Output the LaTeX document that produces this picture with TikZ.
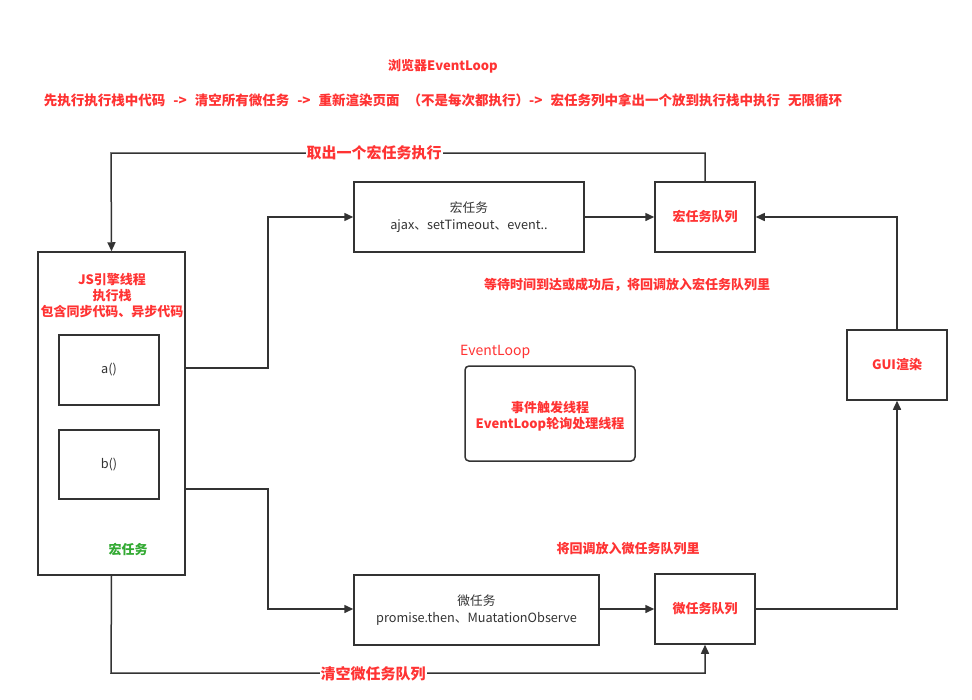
\documentclass[tikz,border=0pt]{standalone}
\usepackage{fontspec}
\setmainfont{Noto Sans CJK SC}
\usetikzlibrary{arrows.meta}
\definecolor{dark}{RGB}{51,51,51}
\definecolor{myred}{RGB}{255,51,51}
\definecolor{mygreen}{RGB}{51,170,51}
\tikzset{
  box/.style={draw=dark, line width=1.5pt, fill=white, inner sep=0pt, align=center, text=dark, font=\fontsize{12.7}{17}\selectfont},
  redtxt/.style={text=myred, font=\fontsize{13}{16}\selectfont\bfseries, align=center, inner sep=1pt},
  qbox/.style={box, minimum width=100pt, minimum height=70pt, text=myred, font=\fontsize{13}{16}\selectfont\bfseries},
  conn/.style={draw=dark, line width=1.5pt, -{Triangle[length=9pt,width=8pt]}},
  lbl/.style={fill=white, text=myred, font=\fontsize{15}{17}\selectfont\bfseries, inner sep=1pt}
}
\begin{document}
\begin{tikzpicture}[x=1pt,y=-1pt]
\useasboundingbox[fill=white] (0,0) rectangle (972,699);
% titles
\node[redtxt] (title) at (443,66) {浏览器EventLoop};
\node[redtxt, font=\fontsize{13.5}{16}\selectfont\bfseries] (sub) at (443,100) {先执行执行栈中代码\hspace{8pt}->\hspace{8pt}清空所有微任务\hspace{8pt}->\hspace{8pt}重新渲染页面\hspace{8pt}（不是每次都执行）->\hspace{8pt}宏任务列中拿出一个放到执行栈中执行\hspace{8pt}无限循环};
% left box
\node[box, minimum width=147pt, minimum height=323pt] (js) at (111.5,413.5) {};
\node[redtxt] (jst) at (112,296) {JS引擎线程\\执行栈\\包含同步代码、异步代码};
\node[box, minimum width=100pt, minimum height=70pt] (a) at (109,370) {a()};
\node[box, minimum width=100pt, minimum height=69pt] (b) at (109,464.5) {b()};
\node[text=mygreen, font=\fontsize{13}{15}\selectfont\bfseries] (mg) at (128,549) {宏任务};
% macro
\node[box, minimum width=230pt, minimum height=70pt] (mac) at (469,217) {宏任务\\ajax、setTimeout、event..};
\node[qbox] (mq) at (705,217) {宏任务队列};
% micro
\node[box, minimum width=245pt, minimum height=70pt] (mic) at (476.5,610) {微任务\\promise.then、MuatationObserve};
\node[qbox] (miq) at (705,609) {微任务队列};
% GUI
\node[qbox] (gui) at (897,365) {GUI渲染};
% event loop
\node[text=myred, font=\fontsize{14}{16}\selectfont, anchor=west, inner sep=0pt] (elt) at (460,352) {EventLoop};
\node[box, rounded corners=4pt, minimum width=170pt, minimum height=95pt] (el) at (550,413.5) {};
\node[redtxt] (elx) at (550,416) {事件触发线程\\EventLoop轮询处理线程};
% notes
\node[redtxt] (n1) at (627,285) {等待时间到达或成功后，将回调放入宏任务队列里};
\node[redtxt] (n2) at (628,549) {将回调放入微任务队列里};
% connectors
\coordinate (t1) at (705,153);
\coordinate (t2) at (111,153);
\draw[conn] (mq.north) -- (t1) -- (t2) -- (js.north);
\node[lbl] at (374,153) {取出一个宏任务执行};
\coordinate (r1) at (185,368);
\coordinate (r2) at (268,368);
\coordinate (r3) at (268,217);
\draw[conn] (r1) -- (r2) -- (r3) -- (mac.west);
\draw[conn] (mac.east) -- (mq.west);
\coordinate (g1) at (897,217);
\draw[conn] (gui.north) -- (g1) -- (mq.east);
\coordinate (s1) at (185,489);
\coordinate (s2) at (268,489);
\coordinate (s3) at (268,609);
\draw[conn] (s1) -- (s2) -- (s3) -- (mic.west |- s3);
\draw[conn] (mic.east |- miq.west) -- (miq.west);
\coordinate (u1) at (897,609);
\draw[conn] (miq.east) -- (u1) -- (gui.south);
\coordinate (v1) at (111,673);
\coordinate (v2) at (705,673);
\draw[conn] (js.south) -- (v1) -- (v2) -- (miq.south);
\node[lbl] at (373,674) {清空微任务队列};
\end{tikzpicture}
\end{document}
